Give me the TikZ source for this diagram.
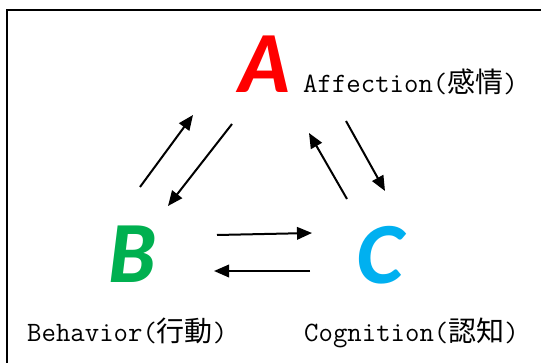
\documentclass[tikz,border=0pt]{standalone}
\usepackage{fontspec}
\usetikzlibrary{arrows.meta}
\newfontfamily\cjk{Noto Sans CJK JP}
\newfontfamily\heavy{Lato Black Italic}
\definecolor{affred}{HTML}{FF0000}
\definecolor{behgreen}{HTML}{00B050}
\definecolor{cogcyan}{HTML}{00B0F0}
\tikzset{
  bigletter/.style={inner sep=0pt, anchor=base, font=\heavy\fontsize{78}{78}\selectfont},
  caption/.style={inner sep=0pt, anchor=base west, font=\ttfamily\fontsize{28}{28}\selectfont},
  link/.style={line width=2pt, -{Triangle[length=15pt,width=12.5pt]}},
}
\begin{document}
\begin{tikzpicture}[x=1pt,y=-1pt]
  \useasboundingbox (0,0) rectangle (541,363);
  \clip (0,0) rectangle (541,363);
  % frame, only its top and left sides fall inside the page
  \draw[line width=2pt] (7,10) rectangle (600,420);

  % the three components
  \node[bigletter, text=affred]   (A) at (265,93)  {A};
  \node[bigletter, text=behgreen] (B) at (133,283) {B};
  \node[bigletter, text=cogcyan]  (C) at (381,284) {C};

  \node[caption] (la) at (303,93)  {Affection({\cjk 感情})};
  \node[caption] (lb) at (27,342)  {Behavior({\cjk 行動})};
  \node[caption] (lc) at (304,342) {Cognition({\cjk 認知})};

  % end points of the connectors
  \coordinate (ba0) at (140,187); \coordinate (ba1) at (193,115);
  \coordinate (ab0) at (232,124); \coordinate (ab1) at (168,206);
  \coordinate (ca0) at (347,199); \coordinate (ca1) at (309,133);
  \coordinate (ac0) at (346,121); \coordinate (ac1) at (385,191);
  \coordinate (bc0) at (217,235); \coordinate (bc1) at (312,233);
  \coordinate (cb0) at (310,271); \coordinate (cb1) at (214,271);

  \draw[link] (ba0) -- (ba1);
  \draw[link] (ab0) -- (ab1);
  \draw[link] (ca0) -- (ca1);
  \draw[link] (ac0) -- (ac1);
  \draw[link] (bc0) -- (bc1);
  \draw[link] (cb0) -- (cb1);
\end{tikzpicture}
\end{document}
